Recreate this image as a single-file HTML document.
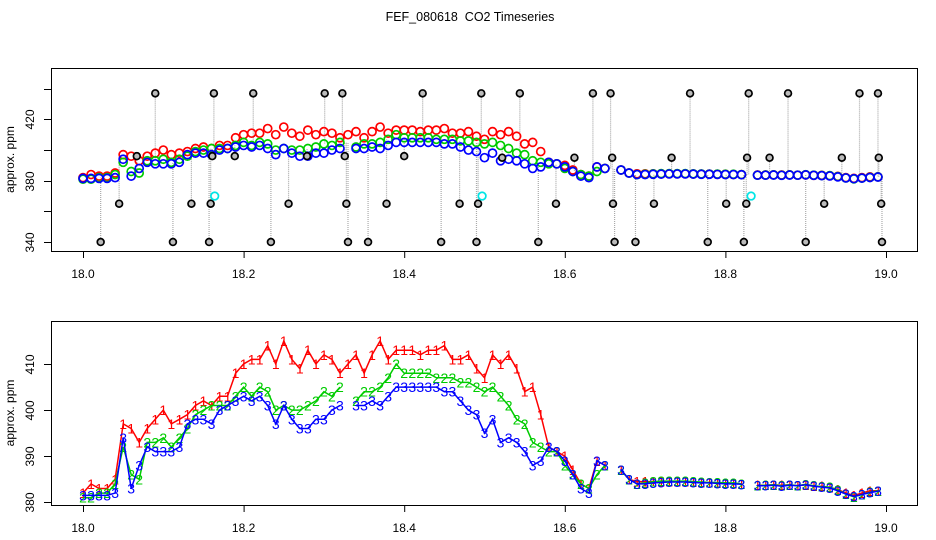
<!DOCTYPE html>
<html><head><meta charset="utf-8"><style>
html,body{margin:0;padding:0;background:#fff}
svg{display:block;font-family:"Liberation Sans",Arial,sans-serif}
</style></head><body>
<svg id="c" width="936" height="540" viewBox="0 0 936 540">
<text x="470" y="21" text-anchor="middle" font-size="12.5" xml:space="preserve" style="white-space:pre">FEF_080618  CO2 Timeseries</text>
<g id="topPanel"></g>
<g id="botPanel"></g>
</svg>
<script>
const times = [];
for (let k = 0; k < 100; k++) times.push(+(18 + k * 0.01).toFixed(2));
const series1 = [382,384,383,383,385,397,396,393,396,398,400,397,398,399,401,402,401,403,403,408,410,411,411,414,410,415,411,409,413,410,412,411,408,410,412,408,412,415,411,413,413,413,412,413,413,414,411,411,412,409,407,412,410,412,409,404,405,399,392,391,390,387,384,383,389,388,null,387,385,384.5,384.5,384.5,384.5,384.5,384.5,384.5,384.4,384.3,384.3,384.2,384.2,384.1,384,null,383.7,383.7,383.8,383.7,383.8,383.6,383.8,383.5,383.5,383.2,382.8,382,381.5,382,382.5,382.5];
const series2 = [381,381,382,382,384,392,386,385,393,393,394,392,394,396,399,400,401,401,401,403,405,403,405,404,400,401,400,400,401,402,404,403,405,null,402,404,404,405,407,410,408,408,408,408,407,407,407,406,406,405,404,405,403,401,398,397,393,392,391,391,388,386,384,383,386,388,null,387,385,384,384.2,384.5,384.6,384.6,384.6,384.6,384.5,384.4,384.3,384.3,384.2,384.2,384,null,383.6,383.7,383.8,383.6,383.8,383.6,383.9,383.6,383.4,383.3,382.7,381.8,381.2,381.7,382.2,382.5];
const series3 = [381.5,381.5,381.5,381.5,382,394,383,388,392,391,391,391,392,397,398,398,397,400,401,402,403,402,403,401,397,401,398,396,396,398,398,400,401,null,401,401,402,401,403,405,405,405,405,405,405,404,404,402,400,399,395,398,393,394,393,391,388,389,392,391,389,386,383,382,389,388,null,387,385,384,384,384.2,384.3,384.4,384.4,384.4,384.3,384.2,384.2,384.1,384,384,383.9,null,383.6,383.6,383.7,383.5,383.7,383.6,383.8,383.5,383.3,383.1,382.5,381.8,381.3,381.7,382.1,382.4];
const outlierTimes = [18.090,18.163,18.212,18.301,18.323,18.423,18.496,18.544,18.635,18.657,18.756,18.829,18.878,18.967,18.990,
 18.045,18.135,18.159,18.256,18.328,18.378,18.469,18.492,18.589,18.660,18.711,18.801,18.826,18.923,18.994,
 18.022,18.112,18.157,18.234,18.330,18.355,18.446,18.490,18.567,18.662,18.688,18.778,18.823,18.900,18.995,
 18.067,18.161,18.189,18.279,18.326,18.400,18.522,18.612,18.659,18.733,18.827,18.855,18.945,18.991];
const outlierValues = [437,437,437,437,437,437,437,437,437,437,437,437,437,437,437,
 365,365,365,365,365,365,365,365,365,365,365,365,365,365,365,
 340,340,340,340,340,340,340,340,340,340,340,340,340,340,340,
 396,396,396,396,396,396,395,395,395,395,395,395,395,395];
const cyanTimes = [18.164,18.497,18.832];
const cyanValues = [370,370,370];
const xTicks = [18.0,18.2,18.4,18.6,18.8,19.0];
const xTickLabels = ["18.0","18.2","18.4","18.6","18.8","19.0"];
const topYTicks = [340,360,380,400,420,440];
const topYLabels = ["340","","380","","420",""];
const botYTicks = [380,390,400,410];
const botYLabels = ["380","390","400","410"];

const NS = "http://www.w3.org/2000/svg";
function mk(tag, attrs, parent){const e=document.createElementNS(NS,tag);for(const k in attrs)e.setAttribute(k,attrs[k]);parent.appendChild(e);return e;}
const xs = t => 83 + (t - 18) * 803;
const yTop = v => 180.7 - (v - 380) * 1.533;
const yBot = v => 502.3 - (v - 380) * 4.61;
const topG = document.getElementById('topPanel'), botG = document.getElementById('botPanel');

function interp(arr, t){
  const k = Math.max(0, Math.min(99, Math.round((t - 18) / 0.01)));
  let v = arr[k]; let j = k;
  while (v == null && j > 0) { j--; v = arr[j]; }
  return v;
}

function frame(g, y0, y1, yf, yticks, ylabels, name){
  const r = mk('rect',{x:51.5,y:y0+0.5,width:866,height:y1-y0,fill:'none',stroke:'#000','stroke-width':1},g);
  
  
  xTicks.forEach((t,i)=>{
    const l = mk('line',{x1:xs(t)+0.5,x2:xs(t)+0.5,y1:y1,y2:y1+7,stroke:'#000'},g);
    
    
    const tx = mk('text',{x:xs(t),y:y1+27,'text-anchor':'middle','font-size':12},g);
    tx.textContent = xTickLabels[i];
    
    
  });
  yticks.forEach((v,i)=>{
    const y = Math.round(yf(v))+0.5;
    const l = mk('line',{x1:44,x2:51,y1:y,y2:y,stroke:'#000'},g);
    
    
    if (ylabels[i]) {
      const tx = mk('text',{x:0,y:0,'text-anchor':'middle','font-size':12,transform:`translate(34,${y}) rotate(-90)`},g);
      tx.textContent = ylabels[i];
      
      
    }
  });
  const yt = mk('text',{x:0,y:0,'text-anchor':'middle','font-size':12,transform:`translate(14,${(y0+y1)/2}) rotate(-90)`},g);
  yt.textContent = 'approx. ppm';
  
  
}

frame(topG, 68, 251, yTop, topYTicks, topYLabels, 'top');
outlierTimes.forEach((t,i)=>{
  const base = interp(series2, t);
  const l = mk('line',{x1:xs(t),x2:xs(t),y1:yTop(outlierValues[i]),y2:yTop(base),stroke:'#aaa','stroke-width':1.2,'stroke-dasharray':'1,1'},topG);
  
  
});
const cols = ['#ff0000','#00cc00','#0000ff'];
[series1,series2,series3].forEach((s,si)=>{
  s.forEach((v,k)=>{
    if (v == null) return;
    const c = mk('circle',{cx:xs(times[k]),cy:yTop(v),r:4,fill:'none',stroke:cols[si],'stroke-width':1.7},topG);
    
    
  });
});
outlierTimes.forEach((t,i)=>{
  const c = mk('circle',{cx:xs(t),cy:yTop(outlierValues[i]),r:3.4,fill:'#bbb',stroke:'#000','stroke-width':1.7},topG);
  
  
});
cyanTimes.forEach((t,i)=>{
  const c = mk('circle',{cx:xs(t),cy:yTop(cyanValues[i]),r:3.8,fill:'none',stroke:'#00e5e5','stroke-width':1.7},topG);
  
  
});

frame(botG, 321, 505, yBot, botYTicks, botYLabels, 'bottom');
[series1,series2,series3].forEach((s,si)=>{
  let d = '', pen = false;
  s.forEach((v,k)=>{
    if (v == null) { pen = false; return; }
    d += (pen ? 'L' : 'M') + xs(times[k]).toFixed(1) + ',' + yBot(v).toFixed(1);
    pen = true;
  });
  const p = mk('path',{d:d,fill:'none',stroke:cols[si],'stroke-width':1.5},botG);
  
  
  s.forEach((v,k)=>{
    if (v == null) return;
    const tx = mk('text',{x:xs(times[k]),y:yBot(v)+5,'text-anchor':'middle','font-size':14,fill:cols[si]},botG);
    tx.textContent = String(si+1);
    
    
  });
});
</script>
</body></html>
